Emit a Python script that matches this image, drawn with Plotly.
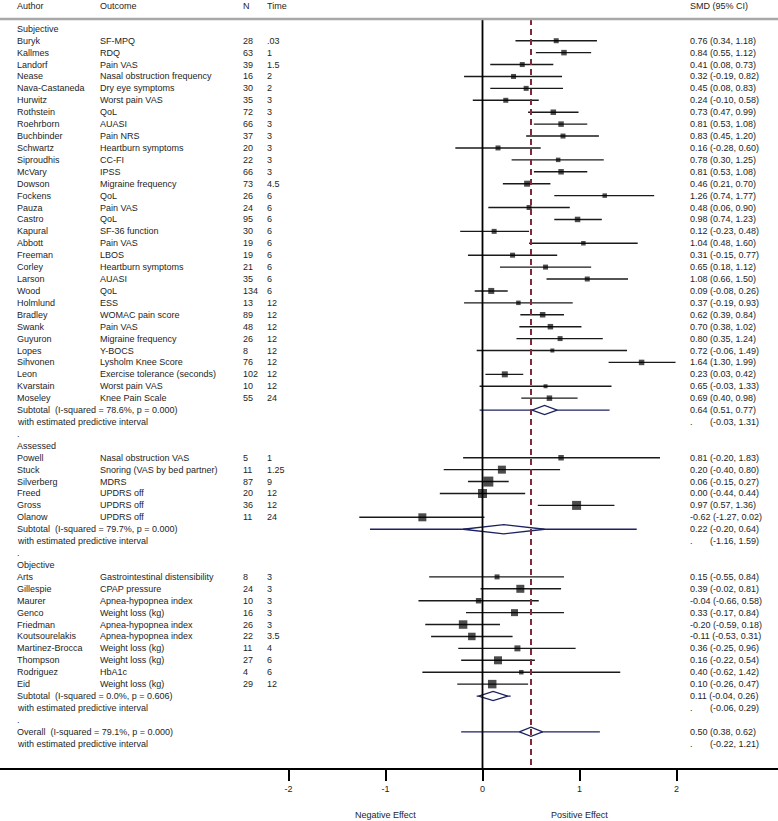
import plotly.graph_objects as go

# ---------------- data ----------------
subj_author = ["Buryk", "Kallmes", "Landorf", "Nease", "Nava-Castaneda", "Hurwitz", "Rothstein",
               "Roehrborn", "Buchbinder", "Schwartz", "Siproudhis", "McVary", "Dowson", "Fockens",
               "Pauza", "Castro", "Kapural", "Abbott", "Freeman", "Corley", "Larson", "Wood",
               "Holmlund", "Bradley", "Swank", "Guyuron", "Lopes", "Sihvonen", "Leon", "Kvarstain",
               "Moseley"]
subj_outcome = ["SF-MPQ", "RDQ", "Pain VAS", "Nasal obstruction frequency", "Dry eye symptoms",
                "Worst pain VAS", "QoL", "AUASI", "Pain NRS", "Heartburn symptoms", "CC-FI", "IPSS",
                "Migraine frequency", "QoL", "Pain VAS", "QoL", "SF-36 function", "Pain VAS", "LBOS",
                "Heartburn symptoms", "AUASI", "QoL", "ESS", "WOMAC pain score", "Pain VAS",
                "Migraine frequency", "Y-BOCS", "Lysholm Knee Score", "Exercise tolerance (seconds)",
                "Worst pain VAS", "Knee Pain Scale"]
subj_n = [28, 63, 39, 16, 30, 35, 72, 66, 37, 20, 22, 66, 73, 26, 24, 95, 30, 19, 19, 21, 35, 134,
          13, 89, 48, 26, 8, 76, 102, 10, 55]
subj_time = [".03", "1", "1.5", "2", "2", "3", "3", "3", "3", "3", "3", "3", "4.5", "6", "6", "6", "6",
             "6", "6", "6", "6", "6", "12", "12", "12", "12", "12", "12", "12", "12", "24"]
subj_es = [0.76, 0.84, 0.41, 0.32, 0.45, 0.24, 0.73, 0.81, 0.83, 0.16, 0.78, 0.81, 0.46, 1.26, 0.48,
           0.98, 0.12, 1.04, 0.31, 0.65, 1.08, 0.09, 0.37, 0.62, 0.70, 0.80, 0.72, 1.64, 0.23, 0.65, 0.69]
subj_lo = [0.34, 0.55, 0.08, -0.19, 0.08, -0.10, 0.47, 0.53, 0.45, -0.28, 0.30, 0.53, 0.21, 0.74, 0.06,
           0.74, -0.23, 0.48, -0.15, 0.18, 0.66, -0.08, -0.19, 0.39, 0.38, 0.35, -0.06, 1.30, 0.03, -0.03, 0.40]
subj_hi = [1.18, 1.12, 0.73, 0.82, 0.83, 0.58, 0.99, 1.08, 1.20, 0.60, 1.25, 1.08, 0.70, 1.77, 0.90,
           1.23, 0.48, 1.60, 0.77, 1.12, 1.50, 0.26, 0.93, 0.84, 1.02, 1.24, 1.49, 1.99, 0.42, 1.33, 0.98]
subj_weight = [5, 5.5, 5, 5, 5, 5, 5.5, 5.5, 5, 5, 4.5, 5.5, 6, 4.5, 5, 5.5, 5, 4.5, 5, 5, 5, 6,
               4.5, 5.5, 5.5, 5, 4, 5.5, 6, 4, 5.5]
subj_total = ("78.6%", "0.000", 0.64, 0.51, 0.77, -0.03, 1.31)

ass_author = ["Powell", "Stuck", "Silverberg", "Freed", "Gross", "Olanow"]
ass_outcome = ["Nasal obstruction VAS", "Snoring (VAS by bed partner)", "MDRS", "UPDRS off",
               "UPDRS off", "UPDRS off"]
ass_n = [5, 11, 87, 20, 36, 11]
ass_time = ["1", "1.25", "9", "12", "12", "24"]
ass_es = [0.81, 0.20, 0.06, 0.00, 0.97, -0.62]
ass_lo = [-0.20, -0.40, -0.15, -0.44, 0.57, -1.27]
ass_hi = [1.83, 0.80, 0.27, 0.44, 1.36, 0.02]
ass_weight = [5.5, 8, 10, 9, 9, 8]
ass_total = ("79.7%", "0.000", 0.22, -0.20, 0.64, -1.16, 1.59)

obj_author = ["Arts", "Gillespie", "Maurer", "Genco", "Friedman", "Koutsourelakis",
              "Martinez-Brocca", "Thompson", "Rodriguez", "Eid"]
obj_outcome = ["Gastrointestinal distensibility", "CPAP pressure", "Apnea-hypopnea index",
               "Weight loss (kg)", "Apnea-hypopnea index", "Apnea-hypopnea index", "Weight loss (kg)",
               "Weight loss (kg)", "HbA1c", "Weight loss (kg)"]
obj_n = [8, 24, 10, 16, 26, 22, 11, 27, 4, 29]
obj_time = ["3", "3", "3", "3", "3", "3.5", "4", "6", "6", "12"]
obj_es = [0.15, 0.39, -0.04, 0.33, -0.20, -0.11, 0.36, 0.16, 0.40, 0.10]
obj_lo = [-0.55, -0.02, -0.66, -0.17, -0.59, -0.53, -0.25, -0.22, -0.62, -0.26]
obj_hi = [0.84, 0.81, 0.58, 0.84, 0.18, 0.31, 0.96, 0.54, 1.42, 0.47]
obj_weight = [5, 8, 5.5, 7, 8.5, 7.5, 6, 8, 4.5, 8.5]
obj_total = ("0.0%", "0.606", 0.11, -0.04, 0.26, -0.06, 0.29)

overall_total = ("79.1%", "0.000", 0.50, 0.38, 0.62, -0.22, 1.21)

x_ticks = [-2, -1, 0, 1, 2]
headers = ["Author", "Outcome", "N", "Time", "SMD (95% CI)"]

groups = [
    ("Subjective", subj_author, subj_outcome, subj_n, subj_time, subj_es, subj_lo, subj_hi, subj_weight, subj_total),
    ("Assessed", ass_author, ass_outcome, ass_n, ass_time, ass_es, ass_lo, ass_hi, ass_weight, ass_total),
    ("Objective", obj_author, obj_outcome, obj_n, obj_time, obj_es, obj_lo, obj_hi, obj_weight, obj_total),
]

# ---------------- layout geometry (page pixels) ----------------
W, H = 778, 821
X0_PX, X_SCALE = 482.5, 97.0           # pixel of x=0, pixels per unit
ROW0_PX, ROW_H = 28.8, 11.915          # pixel of row 0, row height
AXIS_PX = 768.0
COL_PX = [16, 99, 242, 266, 689]
PRED_PX = 709

FONT = "Liberation Sans, Arial, Helvetica, sans-serif"
FS = 9
TXT = "#1e1e1e"
NAVY = "#1c2260"
RED = "#7d2a3a"


def row_of(py):
    return (py - ROW0_PX) / ROW_H


def row_px(row):
    return ROW0_PX + ROW_H * row


def xpx(px):
    return (px - X0_PX) / X_SCALE


def paper_y(py):
    return 1 - py / AXIS_PX


annotations = []


def txt_px(px, py, s):
    annotations.append(dict(x=(px - 1) / W, xref="paper", y=paper_y(py), yref="paper", text=s,
                            showarrow=False, xanchor="left", yanchor="middle",
                            font=dict(family=FONT, size=FS, color=TXT)))


def txt(px, row, s):
    txt_px(px, row_px(row), s)


NB = "\u00a0"

for c, h in zip(COL_PX, headers):
    txt_px(c, 5.5, h)

ci_x, ci_y = [], []
box_x, box_y, box_s = [], [], []
pred_x, pred_y = [], []
diamonds = []

row = 0


def add_summary(row, label, tot):
    i2, p, es, lo, hi, plo, phi = tot
    txt(COL_PX[0], row, f"{label}{NB}{NB}(I-squared = {i2}, p = {p})")
    txt(COL_PX[4], row, f"{es:.2f} ({lo:.2f}, {hi:.2f})")
    txt(COL_PX[0], row + 1, "with estimated predictive interval")
    txt(COL_PX[4], row + 1, ".")
    txt(PRED_PX, row + 1, f"({plo:.2f}, {phi:.2f})")
    pred_x.extend([plo, phi, None])
    pred_y.extend([row, row, None])
    diamonds.append((row, es, lo, hi))


for gi, (gname, au, oc, nn, tm, es, lo, hi, wt, tot) in enumerate(groups):
    txt(COL_PX[0], row, gname)
    row += 1
    for k in range(len(au)):
        txt(COL_PX[0], row, au[k])
        txt(COL_PX[1], row, oc[k])
        txt(COL_PX[2], row, str(nn[k]))
        txt(COL_PX[3], row, tm[k])
        txt(COL_PX[4], row, f"{es[k]:.2f} ({lo[k]:.2f}, {hi[k]:.2f})")
        ci_x.extend([lo[k], hi[k], None])
        ci_y.extend([row, row, None])
        box_x.append(es[k])
        box_y.append(row)
        box_s.append(wt[k])
        row += 1
    add_summary(row, "Subtotal", tot)
    row += 2
    txt(COL_PX[0], row, ".")
    row += 1

add_summary(row, "Overall", overall_total)

fig = go.Figure()

fig.add_trace(go.Scatter(x=ci_x, y=ci_y, mode="lines", line=dict(color="#1a1a1a", width=1.4),
                         hoverinfo="skip", showlegend=False))
fig.add_trace(go.Scatter(x=pred_x, y=pred_y, mode="lines", line=dict(color=NAVY, width=1.3),
                         hoverinfo="skip", showlegend=False))
fig.add_trace(go.Scatter(x=box_x, y=box_y, mode="markers",
                         marker=dict(symbol="square", size=box_s, color="#000000", line=dict(width=0)),
                         showlegend=False))

DH = 4.6 / ROW_H
for (r, es, lo, hi) in diamonds:
    fig.add_trace(go.Scatter(x=[lo, es, hi, es, lo], y=[r, r - DH, r, r + DH, r], mode="lines",
                             fill="toself", fillcolor="white", line=dict(color=NAVY, width=1.3),
                             hoverinfo="skip", showlegend=False))

top_row = row_of(19)
bot_row = row_of(AXIS_PX)
fig.add_trace(go.Scatter(x=[0, 0], y=[top_row, bot_row], mode="lines",
                         line=dict(color="#000000", width=1.8), hoverinfo="skip", showlegend=False))
fig.add_trace(go.Scatter(x=[overall_total[2], overall_total[2]], y=[top_row, bot_row], mode="lines",
                         line=dict(color=RED, width=2, dash="6px,4px"), hoverinfo="skip", showlegend=False))

# header rule
fig.add_shape(type="line", xref="paper", x0=0, x1=1, yref="y", y0=top_row, y1=top_row,
              line=dict(color="#a8a8a8", width=2.5))

# effect labels
for val, lab in [(-1, "Negative Effect"), (1, "Positive Effect")]:
    annotations.append(dict(x=val, xref="x", y=paper_y(815), yref="paper", text=lab,
                            showarrow=False, xanchor="center", yanchor="middle",
                            font=dict(family=FONT, size=FS, color=TXT)))

fig.update_layout(
    width=W, height=H,
    margin=dict(l=0, r=0, t=0, b=H - AXIS_PX, pad=0),
    paper_bgcolor="white", plot_bgcolor="white",
    showlegend=False,
    hovermode=False,
    annotations=annotations,
    xaxis=dict(range=[xpx(0), xpx(W)], tickvals=x_ticks, ticktext=[str(v) for v in x_ticks],
               showgrid=False, zeroline=False, showline=True, linecolor="#000000", linewidth=2,
               ticks="outside", ticklen=11, tickwidth=2, tickcolor="#000000",
               tickfont=dict(family=FONT, size=FS, color=TXT), fixedrange=True),
    yaxis=dict(range=[row_of(AXIS_PX), row_of(0)], visible=False, fixedrange=True),
)

fig.write_html("out.html",
               config={"displayModeBar": False, "staticPlot": True},
               post_script="document.body.style.margin='0';document.body.style.padding='0';")
